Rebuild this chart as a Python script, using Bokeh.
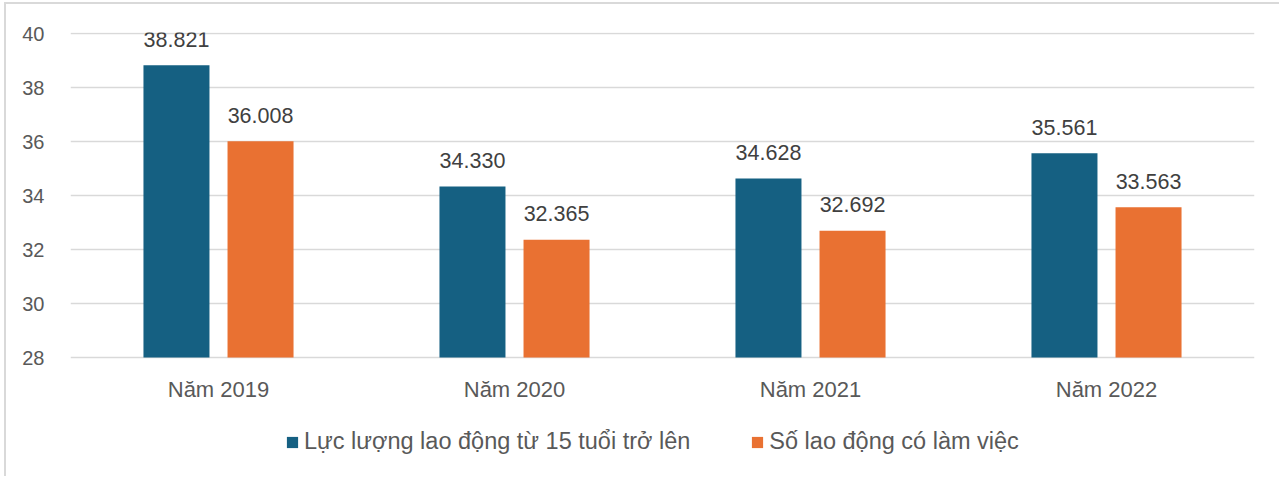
from bokeh.plotting import figure
from bokeh.models import (ColumnDataSource, FactorRange, Range1d, FixedTicker,
                          Legend, LegendItem)
from bokeh.transform import dodge
from bokeh.core.properties import value
from bokeh.embed import file_html
from bokeh.resources import INLINE

categories = ["Năm 2019", "Năm 2020", "Năm 2021", "Năm 2022"]
series_names = ["Lực lượng lao động từ 15 tuổi trở lên", "Số lao động có làm việc"]
labor_force = [38.821, 34.330, 34.628, 35.561]
employed = [36.008, 32.365, 32.692, 33.563]
y_ticks = [28, 30, 32, 34, 36, 38, 40]
Y_BASE = 28

BLUE = "#156082"
ORANGE = "#E97132"
FONT = "Liberation Sans"

src = ColumnDataSource(dict(
    cat=categories,
    base=[Y_BASE] * len(categories),
    a=labor_force,
    b=employed,
    a_lbl=[f"{v:.3f}" for v in labor_force],
    b_lbl=[f"{v:.3f}" for v in employed],
))

H = 474
# frame spans down to the figure bottom so the legend can sit inside it
p = figure(x_range=FactorRange(*categories, range_padding=0),
           y_range=Range1d(28 - (H + 4 - 357) / 27, 40 + 1 / 27),
           width=1275, height=H, output_backend="svg", toolbar_location=None,
           min_border_left=64, min_border_right=27, min_border_top=28, min_border_bottom=0)
p.styles = {"margin-left": "4px", "margin-top": "2px",
            "border-left": "2px solid #d9d9d9", "border-top": "2px solid #d9d9d9"}
p.outline_line_color = None
p.background_fill_color = "white"
p.border_fill_color = "white"

off = 0.142
bw = 0.223
r1 = p.vbar(x=dodge("cat", -off, range=p.x_range), top="a", bottom=Y_BASE, width=bw,
            source=src, fill_color=BLUE, line_color=None)
r2 = p.vbar(x=dodge("cat", off, range=p.x_range), top="b", bottom=Y_BASE, width=bw,
            source=src, fill_color=ORANGE, line_color=None)

for col, lbl, o in (("a", "a_lbl", -off), ("b", "b_lbl", off)):
    p.text(x=dodge("cat", o, range=p.x_range), y=col, text=lbl, source=src,
           text_align="center", text_baseline="alphabetic", y_offset=-26,
           text_font=value(FONT), text_font_size="21.5px", text_color="#404040")

# category labels under the baseline
p.text(x="cat", y="base", text="cat", source=src, text_align="center",
       text_baseline="alphabetic", y_offset=32,
       text_font=value(FONT), text_font_size="22px", text_color="#595959")

p.xaxis.visible = False
p.yaxis.ticker = FixedTicker(ticks=y_ticks)
p.ygrid.ticker = FixedTicker(ticks=y_ticks)
p.ygrid.grid_line_color = "#d9d9d9"
p.ygrid.grid_line_width = 1.5
p.xgrid.grid_line_color = None

p.yaxis.axis_line_color = None
p.yaxis.major_tick_line_color = None
p.yaxis.minor_tick_line_color = None
p.yaxis.major_label_text_font = FONT
p.yaxis.major_label_text_color = "#595959"
p.yaxis.major_label_text_font_size = "20px"
p.yaxis.major_label_standoff = 20

legend = Legend(items=[LegendItem(label=series_names[0], renderers=[r1]),
                       LegendItem(label=series_names[1], renderers=[r2])],
                orientation="horizontal", location=(215, 23),
                glyph_width=14, glyph_height=14, label_standoff=5, spacing=60,
                padding=0, margin=0, border_line_color=None,
                background_fill_alpha=0,
                label_text_font=FONT, label_text_font_size="23.5px",
                label_text_color="#595959")
p.add_layout(legend, "center")

open("out.html", "w").write(file_html(p, INLINE))
